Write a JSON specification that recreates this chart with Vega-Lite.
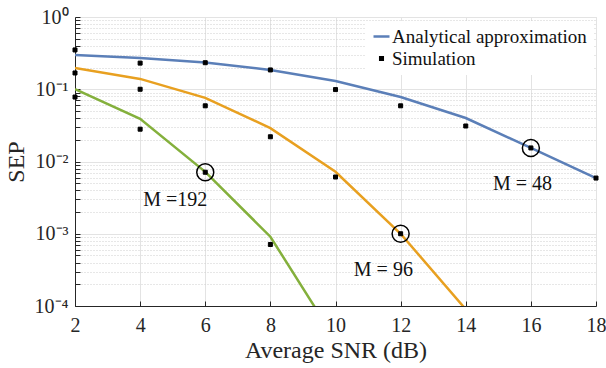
{
  "$schema": "https://vega.github.io/schema/vega-lite/v6.json",
  "width": 521,
  "height": 289,
  "autosize": {"type": "none"},
  "padding": {"left": 75, "top": 17, "right": 10, "bottom": 62},
  "config": {
    "view": {"stroke": "#e3e3e3", "strokeWidth": 1},
    "font": "Liberation Serif",
    "axis": {
      "labelFont": "Liberation Serif",
      "titleFont": "Liberation Serif",
      "labelColor": "#262626",
      "titleColor": "#262626",
      "domainColor": "#262626",
      "tickColor": "#262626",
      "labelFontSize": 20,
      "titleFontSize": 24,
      "titleFontWeight": "normal",
      "gridColor": "#e3e3e3",
      "gridWidth": 1
    }
  },
  "datasets": {
    "analytical": [
      {"series": "48", "snr": 2, "sep": 0.298},
      {"series": "48", "snr": 4, "sep": 0.27},
      {"series": "48", "snr": 6, "sep": 0.234},
      {"series": "48", "snr": 8, "sep": 0.185},
      {"series": "48", "snr": 10, "sep": 0.13},
      {"series": "48", "snr": 12, "sep": 0.078},
      {"series": "48", "snr": 14, "sep": 0.04},
      {"series": "48", "snr": 16, "sep": 0.0154},
      {"series": "48", "snr": 18, "sep": 0.0059},
      {"series": "96", "snr": 2, "sep": 0.197},
      {"series": "96", "snr": 4, "sep": 0.139},
      {"series": "96", "snr": 6, "sep": 0.076},
      {"series": "96", "snr": 8, "sep": 0.029},
      {"series": "96", "snr": 10, "sep": 0.0072},
      {"series": "96", "snr": 12, "sep": 0.001},
      {"series": "96", "snr": 14, "sep": 0.00009},
      {"series": "192", "snr": 2, "sep": 0.1},
      {"series": "192", "snr": 4, "sep": 0.039},
      {"series": "192", "snr": 6, "sep": 0.0072},
      {"series": "192", "snr": 8, "sep": 0.00091},
      {"series": "192", "snr": 10, "sep": 0.000034}
    ],
    "simulation": [
      {"kind": "Simulation", "series": "48", "snr": 2, "sep": 0.35},
      {"kind": "Simulation", "series": "48", "snr": 4, "sep": 0.23},
      {"kind": "Simulation", "series": "48", "snr": 6, "sep": 0.233},
      {"kind": "Simulation", "series": "48", "snr": 8, "sep": 0.185},
      {"kind": "Simulation", "series": "48", "snr": 10, "sep": 0.099},
      {"kind": "Simulation", "series": "48", "snr": 12, "sep": 0.059},
      {"kind": "Simulation", "series": "48", "snr": 14, "sep": 0.031},
      {"kind": "Simulation", "series": "48", "snr": 16, "sep": 0.0154},
      {"kind": "Simulation", "series": "48", "snr": 18, "sep": 0.0059},
      {"kind": "Simulation", "series": "96", "snr": 2, "sep": 0.168},
      {"kind": "Simulation", "series": "96", "snr": 4, "sep": 0.1},
      {"kind": "Simulation", "series": "96", "snr": 6, "sep": 0.059},
      {"kind": "Simulation", "series": "96", "snr": 8, "sep": 0.022},
      {"kind": "Simulation", "series": "96", "snr": 10, "sep": 0.0061},
      {"kind": "Simulation", "series": "96", "snr": 12, "sep": 0.001},
      {"kind": "Simulation", "series": "192", "snr": 2, "sep": 0.078},
      {"kind": "Simulation", "series": "192", "snr": 4, "sep": 0.028},
      {"kind": "Simulation", "series": "192", "snr": 6, "sep": 0.0071},
      {"kind": "Simulation", "series": "192", "snr": 8, "sep": 0.00071}
    ],
    "circles": [
      {"snr": 6, "sep": 0.0071},
      {"snr": 12, "sep": 0.001},
      {"snr": 16, "sep": 0.0154}
    ],
    "labels": [
      {"snr": 5.08, "sep": 0.00293, "text": "M =192"},
      {"snr": 11.47, "sep": 0.00032, "text": "M = 96"},
      {"snr": 15.74, "sep": 0.0049, "text": "M = 48"}
    ]
  },
  "layer": [
    {
      "data": {"name": "analytical"},
      "mark": {"type": "line", "clip": true, "strokeWidth": 2.5},
      "encoding": {
        "x": {
          "field": "snr", "type": "quantitative",
          "scale": {"domain": [2, 18], "nice": false, "zero": false},
          "axis": {
            "title": "Average SNR (dB)",
            "values": [2, 4, 6, 8, 10, 12, 14, 16, 18],
            "grid": true,
            "tickSize": -5,
            "labelPadding": 14,
            "titlePadding": 3,
            "labelFlush": false
          }
        },
        "y": {
          "field": "sep", "type": "quantitative",
          "scale": {"type": "log", "domain": [0.0001, 1], "nice": false},
          "axis": {
            "title": "SEP",
            "values": [0.0001, 0.0002, 0.0003, 0.0004, 0.0005, 0.0006, 0.0007, 0.0008, 0.0009,
                       0.001, 0.002, 0.003, 0.004, 0.005, 0.006, 0.007, 0.008, 0.009,
                       0.01, 0.02, 0.03, 0.04, 0.05, 0.06, 0.07, 0.08, 0.09,
                       0.1, 0.2, 0.3, 0.4, 0.5, 0.6, 0.7, 0.8, 0.9, 1],
            "labelExpr": "abs(log(datum.value)/LN10 - round(log(datum.value)/LN10)) > 0.001 ? '' : (datum.value >= 0.5 ? '10⁰' : datum.value >= 0.05 ? '10⁻¹' : datum.value >= 0.005 ? '10⁻²' : datum.value >= 0.0005 ? '10⁻³' : '10⁻⁴')",
            "labelOverlap": false,
            "labelFlush": false,
            "grid": true,
            "gridDash": {"condition": {"test": "abs(log(datum.value)/LN10 - round(log(datum.value)/LN10)) > 0.001", "value": [1, 2]}, "value": []},
            "gridColor": {"condition": {"test": "abs(log(datum.value)/LN10 - round(log(datum.value)/LN10)) > 0.001", "value": "#cfcfcf"}, "value": "#e3e3e3"},
            "tickSize": -5,
            "labelPadding": 12,
            "titlePadding": 6
          }
        },
        "color": {
          "field": "series", "type": "nominal",
          "scale": {"domain": ["48", "96", "192"], "range": ["#5b7fb8", "#e8a020", "#84b03c"]},
          "legend": null
        },
        "size": {"value": 2.5}
      }
    },
    {
      "data": {"name": "simulation"},
      "mark": {"type": "point", "filled": true, "opacity": 1, "size": 625, "strokeWidth": 1},
      "encoding": {
        "x": {"field": "snr", "type": "quantitative"},
        "y": {"field": "sep", "type": "quantitative"},
        "shape": {
          "field": "kind", "type": "nominal",
          "scale": {"domain": ["Analytical approximation", "Simulation"], "range": ["M-1,0H1", "M-0.16,-0.16H0.16V0.16H-0.16Z"]},
          "legend": {
            "title": null,
            "orient": "none",
            "legendX": 291,
            "legendY": 4,
            "fillColor": "white",
            "padding": 6,
            "labelFont": "Liberation Serif",
            "labelFontSize": 19,
            "labelColor": "#111111",
            "labelLimit": 400,
            "labelOffset": 1,
            "rowPadding": 2,
            "symbolOpacity": 1,
            "symbolSize": 256,
            "symbolStrokeWidth": 2.5
          }
        },
        "fill": {
          "field": "kind", "type": "nominal",
          "scale": {"domain": ["Analytical approximation", "Simulation"], "range": ["#5b7fb8", "black"]}
        },
        "stroke": {
          "field": "kind", "type": "nominal",
          "scale": {"domain": ["Analytical approximation", "Simulation"], "range": ["#5b7fb8", "black"]}
        }
      }
    },
    {
      "data": {"name": "circles"},
      "mark": {"type": "point", "shape": "circle", "filled": false, "stroke": "black", "strokeWidth": 1.5, "size": 289, "opacity": 1},
      "encoding": {
        "x": {"field": "snr", "type": "quantitative"},
        "y": {"field": "sep", "type": "quantitative"}
      }
    },
    {
      "data": {"name": "labels"},
      "mark": {"type": "text", "font": "Liberation Serif", "fontSize": 20, "color": "#111111", "align": "center", "baseline": "middle"},
      "encoding": {
        "x": {"field": "snr", "type": "quantitative"},
        "y": {"field": "sep", "type": "quantitative"},
        "text": {"field": "text"}
      }
    }
  ]
}
